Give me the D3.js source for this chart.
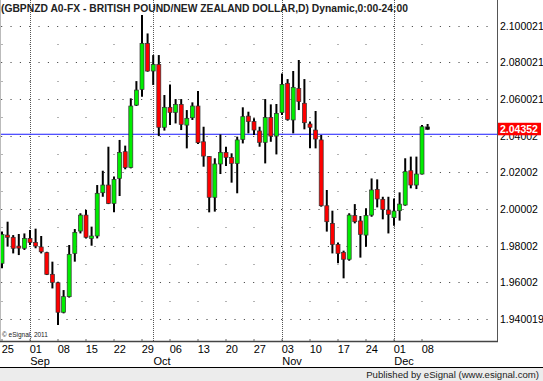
<!DOCTYPE html>
<html>
<head>
<meta charset="utf-8">
<script src="https://cdn.jsdelivr.net/npm/d3@7"></script>
<style>
  body { margin: 0; background: #fff; }
  svg { display: block; }
  text { font-family: Arial, "Liberation Sans", sans-serif; }
</style>
</head>
<body>
<svg id="chart" width="543" height="381"></svg>
<script>
// daily GBPNZD bars, 25 Aug - 9 Dec 2011
const openP = [1.9704, 1.9858, 1.9846, 1.9798, 1.9786, 1.9840, 1.9818, 1.9793, 1.9762, 1.9644,
    1.9598, 1.9437, 1.9522, 1.9758, 1.9880, 1.9967, 1.9840, 1.9853, 2.0089, 2.0131,
    2.0031, 2.0167, 2.0313, 2.0227, 2.0567, 2.0653, 2.0904, 2.0753, 2.0789, 2.0446,
    2.0555, 2.0527, 2.0571, 2.0458, 2.0498, 2.0562, 2.0367, 2.0286, 2.0064, 2.0246,
    2.0309, 2.0282, 2.0249, 2.0380, 2.0507, 2.0477, 2.0426, 2.0364, 2.0500, 2.0398,
    2.0526, 2.0686, 2.0486, 2.0658, 2.0577, 2.0464, 2.0431, 2.0377, 2.0018, 1.9922,
    1.9807, 1.9764, 1.9726, 1.9964, 1.9935, 1.9858, 1.9967, 2.0107, 2.0053, 1.9995,
    1.9953, 1.9991, 2.0022, 2.0209, 2.0131, 2.0191, 2.0448];
const highP = [1.9877, 1.9931, 1.9858, 1.9864, 1.9867, 1.9886, 1.9893, 1.9853, 1.9767, 1.9713,
    1.9604, 1.9558, 1.9804, 1.9891, 1.9977, 1.9995, 1.9904, 2.0131, 2.0209, 2.0340,
    2.0177, 2.0377, 2.0346, 2.0604, 2.0698, 2.1058, 2.0958, 2.0840, 2.0840, 2.0622,
    2.0680, 2.0600, 2.0600, 2.0540, 2.0582, 2.0644, 2.0449, 2.0289, 2.0277, 2.0407,
    2.0340, 2.0304, 2.0395, 2.0555, 2.0531, 2.0495, 2.0449, 2.0600, 2.0571, 2.0573,
    2.0740, 2.0709, 2.0753, 2.0813, 2.0709, 2.0477, 2.0535, 2.0404, 2.0104, 1.9991,
    1.9818, 1.9773, 1.9977, 2.0027, 1.9962, 2.0004, 2.0167, 2.0162, 2.0067, 2.0067,
    2.0058, 2.0091, 2.0277, 2.0286, 2.0286, 2.0458, 2.0464];
const lowP = [1.9677, 1.9795, 1.9758, 1.9749, 1.9777, 1.9804, 1.9786, 1.9758, 1.9640, 1.9567,
    1.9367, 1.9431, 1.9517, 1.9713, 1.9867, 1.9840, 1.9800, 1.9840, 2.0067, 2.0027,
    1.9982, 2.0071, 2.0217, 2.0222, 2.0562, 2.0613, 2.0749, 2.0677, 2.0398, 2.0428,
    2.0458, 2.0467, 2.0431, 2.0331, 2.0486, 2.0355, 2.0231, 1.9982, 1.9986, 2.0191,
    2.0235, 2.0144, 2.0086, 2.0358, 2.0413, 2.0404, 2.0340, 2.0249, 2.0367, 2.0298,
    2.0513, 2.0482, 2.0413, 2.0540, 2.0435, 2.0331, 2.0331, 2.0013, 1.9877, 1.9758,
    1.9704, 1.9622, 1.9718, 1.9922, 1.9735, 1.9795, 1.9958, 2.0009, 1.9944, 1.9867,
    1.9909, 1.9937, 2.0018, 2.0113, 2.0109, 2.0189, 2.0431];
const closeP = [1.9862, 1.9846, 1.9786, 1.9787, 1.9840, 1.9818, 1.9798, 1.9767, 1.9644, 1.9600,
    1.9437, 1.9522, 1.9753, 1.9873, 1.9967, 1.9846, 1.9853, 2.0086, 2.0131, 2.0031,
    2.0162, 2.0309, 2.0226, 2.0562, 2.0649, 2.0904, 2.0753, 2.0789, 2.0446, 2.0555,
    2.0527, 2.0571, 2.0462, 2.0495, 2.0562, 2.0362, 2.0289, 2.0064, 2.0246, 2.0309,
    2.0282, 2.0249, 2.0377, 2.0504, 2.0477, 2.0431, 2.0364, 2.0500, 2.0398, 2.0522,
    2.0680, 2.0489, 2.0664, 2.0586, 2.0471, 2.0446, 2.0382, 2.0018, 1.9931, 1.9807,
    1.9758, 1.9726, 1.9967, 1.9931, 1.9862, 1.9964, 2.0104, 2.0055, 1.9998, 1.9971,
    1.9989, 2.0027, 2.0204, 2.0131, 2.0191, 2.0449, 2.04352];

const yTicks = [2.100021, 2.080021, 2.060021, 2.04002, 2.02002, 2.00002, 1.98002, 1.96002, 1.940019];
const yTickLabels = ["2.100021", "2.080021", "2.060021", "2.04002", "2.02002", "2.00002", "1.98002", "1.96002", "1.940019"];

const weekTicks = ["2011-08-25", "2011-09-01", "2011-09-08", "2011-09-15", "2011-09-22", "2011-09-29",
    "2011-10-06", "2011-10-13", "2011-10-20", "2011-10-27", "2011-11-03", "2011-11-10",
    "2011-11-17", "2011-11-24", "2011-12-01", "2011-12-08"];
const weekLabels = ["25", "01", "08", "15", "22", "29", "06", "13", "20", "27", "03", "10", "17", "24", "01", "08"];
const monthStarts = ["2011-09-01", "2011-10-03", "2011-11-03", "2011-12-01"];
const monthLabels = ["Sep", "Oct", "Nov", "Dec"];

const hLine = 2.0408; // blue horizontal line

const fmtDay = d3.timeFormat("%Y-%m-%d");
const days = d3.timeDay.range(new Date(2011, 7, 25), new Date(2011, 11, 10))
    .filter(d => d.getDay() % 6 !== 0)
    .map(fmtDay);

const bars = days.map((d, i) => ({ date: d, o: openP[i], h: highP[i], l: lowP[i], c: closeP[i] }));

const svg = d3.select("#chart");
const plotRight = 497, plotBottom = 341;

const x = d3.scalePoint().domain(days).range([1.7, 1.7 + 5.6 * (days.length - 1)]);
const y = d3.scaleLinear().domain([1.940019, 2.100021]).range([319, 25.7]);

const grid = svg.append("g");

// major rows: dotted
grid.selectAll("line.major")
    .data(yTicks)
    .join("line")
    .attr("x1", 1.2).attr("x2", plotRight - 2)
    .attr("y1", d => Math.round(y(d)) + 0.5).attr("y2", d => Math.round(y(d)) + 0.5)
    .attr("stroke", "#333")
    .attr("stroke-dasharray", "1 8.333");

// minor rows: a dot at each weekly tick
const minorRows = d3.pairs(yTicks).map(p => (p[0] + p[1]) / 2);
minorRows.forEach(v => {
    grid.selectAll(null)
        .data(weekTicks)
        .join("rect")
        .attr("x", d => Math.round(x(d)) - 0.5)
        .attr("y", Math.round(y(v)))
        .attr("width", 1).attr("height", 1)
        .attr("fill", "#666");
});

// month dividers
grid.selectAll("line.month")
    .data(monthStarts)
    .join("line")
    .attr("x1", d => Math.round(x(d)) + 0.5).attr("x2", d => Math.round(x(d)) + 0.5)
    .attr("y1", 0).attr("y2", plotBottom)
    .attr("stroke", "#555")
    .attr("stroke-dasharray", "1 1");

// blue line
svg.append("line")
    .attr("x1", 0).attr("x2", plotRight)
    .attr("y1", y(hLine)).attr("y2", y(hLine))
    .attr("stroke", "#1a1aff").attr("stroke-width", 1);

// candles
const candles = svg.append("g").selectAll("g")
    .data(bars)
    .join("g");

candles.append("line")
    .attr("x1", d => x(d.date) + 0.3).attr("x2", d => x(d.date) + 0.3)
    .attr("y1", d => y(d.h)).attr("y2", d => y(d.l))
    .attr("stroke", "#000").attr("stroke-width", 2);

candles.append("rect")
    .attr("x", d => x(d.date) - 1.7)
    .attr("width", 4)
    .attr("y", d => y(Math.max(d.o, d.c)))
    .attr("height", d => Math.max(1.5, Math.abs(y(d.o) - y(d.c))))
    .attr("fill", (d, i) => i === bars.length - 1 ? "#000" : (d.c >= d.o ? "#00ee00" : "#ff0000"))
    .attr("stroke", "#333")
    .attr("stroke-width", 0.7);

// frame
svg.append("line").attr("x1", 0.5).attr("x2", 0.5).attr("y1", 0).attr("y2", plotBottom)
    .attr("stroke", "#bbb");
svg.append("line").attr("x1", plotRight + 0.5).attr("x2", plotRight + 0.5).attr("y1", 0).attr("y2", plotBottom)
    .attr("stroke", "#555");
svg.append("line").attr("x1", 0).attr("x2", plotRight + 1).attr("y1", plotBottom + 0.5).attr("y2", plotBottom + 0.5)
    .attr("stroke", "#444").attr("stroke-width", 1.5);

// x ticks
svg.append("g").selectAll("rect")
    .data(weekTicks)
    .join("rect")
    .attr("x", d => Math.round(x(d)) - 0.5)
    .attr("y", plotBottom - 2)
    .attr("width", 1).attr("height", 2)
    .attr("fill", "#666");

svg.append("g").selectAll("text")
    .data(weekTicks)
    .join("text")
    .attr("x", d => x(d))
    .attr("y", 352.5)
    .attr("font-size", 11)
    .attr("fill", "#000")
    .text((d, i) => weekLabels[i]);

svg.append("g").selectAll("text")
    .data(monthStarts)
    .join("text")
    .attr("x", d => x(d) + 0.5)
    .attr("y", 364.5)
    .attr("font-size", 11)
    .attr("fill", "#000")
    .text((d, i) => monthLabels[i]);

// y labels
svg.append("g").selectAll("text")
    .data(yTicks)
    .join("text")
    .attr("x", plotRight + 3)
    .attr("y", d => y(d) + 4)
    .attr("font-size", 10.5)
    .attr("fill", "#000")
    .text((d, i) => yTickLabels[i]);

// last price tag, drawn over the 2.04002 label as in the source
const last = bars[bars.length - 1].c;
svg.append("rect")
    .attr("x", plotRight + 1).attr("y", y(last) - 6.5)
    .attr("width", 43).attr("height", 12.5)
    .attr("fill", "#ff0000");
svg.append("text")
    .attr("x", plotRight + 3).attr("y", y(last) + 4)
    .attr("font-size", 10.5).attr("font-weight", "bold")
    .attr("fill", "#fff")
    .text(d3.format(".5f")(last));

// title and credits
svg.append("text")
    .attr("x", 1).attr("y", 12)
    .attr("font-size", 10.3).attr("font-weight", "bold")
    .attr("fill", "#222")
    .text("(GBPNZD A0-FX - BRITISH POUND/NEW ZEALAND DOLLAR,D) Dynamic,0:00-24:00");

svg.append("text")
    .attr("x", 2).attr("y", 337)
    .attr("font-size", 6.5)
    .attr("fill", "#222")
    .text("© eSignal, 2011");

svg.append("rect").attr("x", 0).attr("y", 368).attr("width", 543).attr("height", 13).attr("fill", "#ececec");
svg.append("line").attr("x1", 0).attr("x2", 543).attr("y1", 367.5).attr("y2", 367.5).attr("stroke", "#000");
svg.append("text")
    .attr("x", 539).attr("y", 377.5)
    .attr("text-anchor", "end")
    .attr("font-size", 9.6)
    .attr("fill", "#222")
    .text("Published by eSignal (www.esignal.com)");
</script>
</body>
</html>
